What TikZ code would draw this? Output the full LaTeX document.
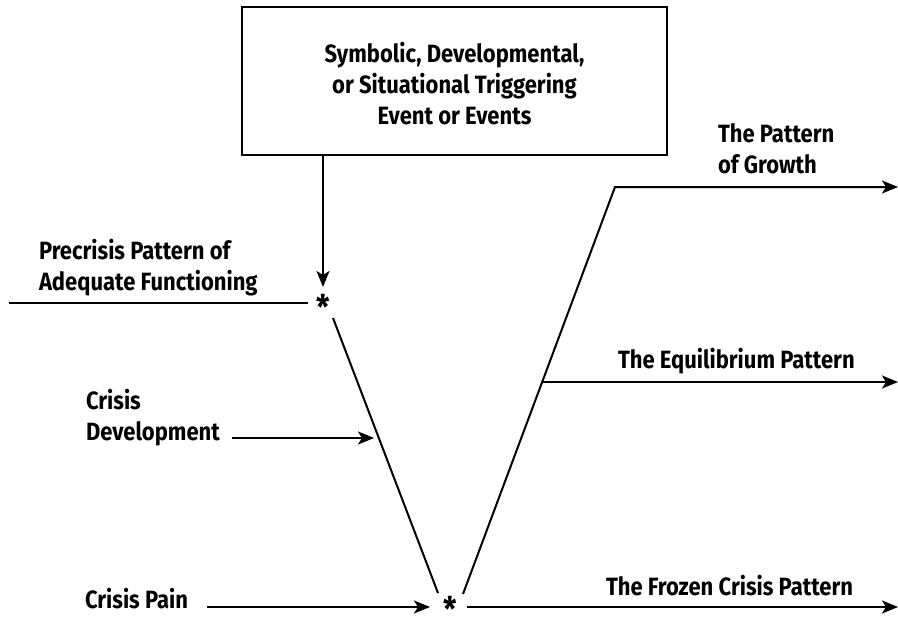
\documentclass[tikz,border=0pt]{standalone}
\usepackage{fontspec}
\setmainfont{Fira Sans}[FakeStretch=0.88]
\usetikzlibrary{arrows.meta, positioning}

\begin{document}
\begin{tikzpicture}[x=1pt, y=-1pt, line width=2pt, line cap=butt,
  lbl/.style={font=\fontsize{25}{31}\selectfont\bfseries, inner sep=0pt, align=left},
  arr/.style={-{Stealth[length=16pt,width=13pt,inset=4pt]}},
  star/.style={font=\fontsize{34}{34}\selectfont\bfseries, inner sep=0pt, text height=6pt, text depth=6pt},
  trigbox/.style={draw, line width=2pt, minimum width=425pt, minimum height=148pt}]
  \useasboundingbox (0,0) rectangle (898,618);

  % triggering event box
  \node[trigbox, label={[lbl, align=center, yshift=-3pt]center:Symbolic, Developmental,\\or Situational Triggering\\Event or Events}] (trig) at (454.5,81) {};

  % the two asterisks
  \node[star] (s1) at (323,304) {\raisebox{-0.47em}{*}};
  \node[star] (s2) at (450,606) {\raisebox{-0.47em}{*}};

  % labels
  \node[lbl, anchor=base west] (pre) at (38,290) {Precrisis Pattern of\\Adequate Functioning};
  \node[lbl, anchor=base west] (dev) at (85,440) {Crisis\\Development};
  \node[lbl, anchor=base west] (pain) at (84,608) {Crisis Pain};
  \node[lbl, anchor=base west] (grow) at (717,173) {The Pattern\\of Growth};
  \node[lbl, anchor=base west] (equi) at (617,368) {The Equilibrium Pattern};
  \node[lbl, anchor=base west] (froz) at (605,595) {The Frozen Crisis Pattern};

  % line ends
  \coordinate (preL) at (9,303);
  \coordinate (dtop) at (333,318);
  \coordinate (dbot) at (438,593);
  \coordinate (ubot) at (463,594);
  \coordinate (gknee) at (615,187);
  \coordinate (eknee) at (542,382);
  \coordinate (devS) at (232,438);
  \coordinate (devE) at (374,438);
  \coordinate (painS) at (207,607);
  \coordinate (painE) at (430,607);
  \coordinate (frzS) at (467,607);

  % connectors
  \draw[arr] (trig.south -| s1) -- (323,287);
  \draw (preL) -- (308,303);
  \draw (dtop) -- (dbot);
  \draw[arr] (ubot) -- (gknee) -- (898,187);
  \draw[arr] (eknee) -- (898,382);
  \draw[arr] (frzS) -- (898,607);
  \draw[arr] (devS) -- (devE);
  \draw[arr] (painS) -- (painE);
\end{tikzpicture}
\end{document}
